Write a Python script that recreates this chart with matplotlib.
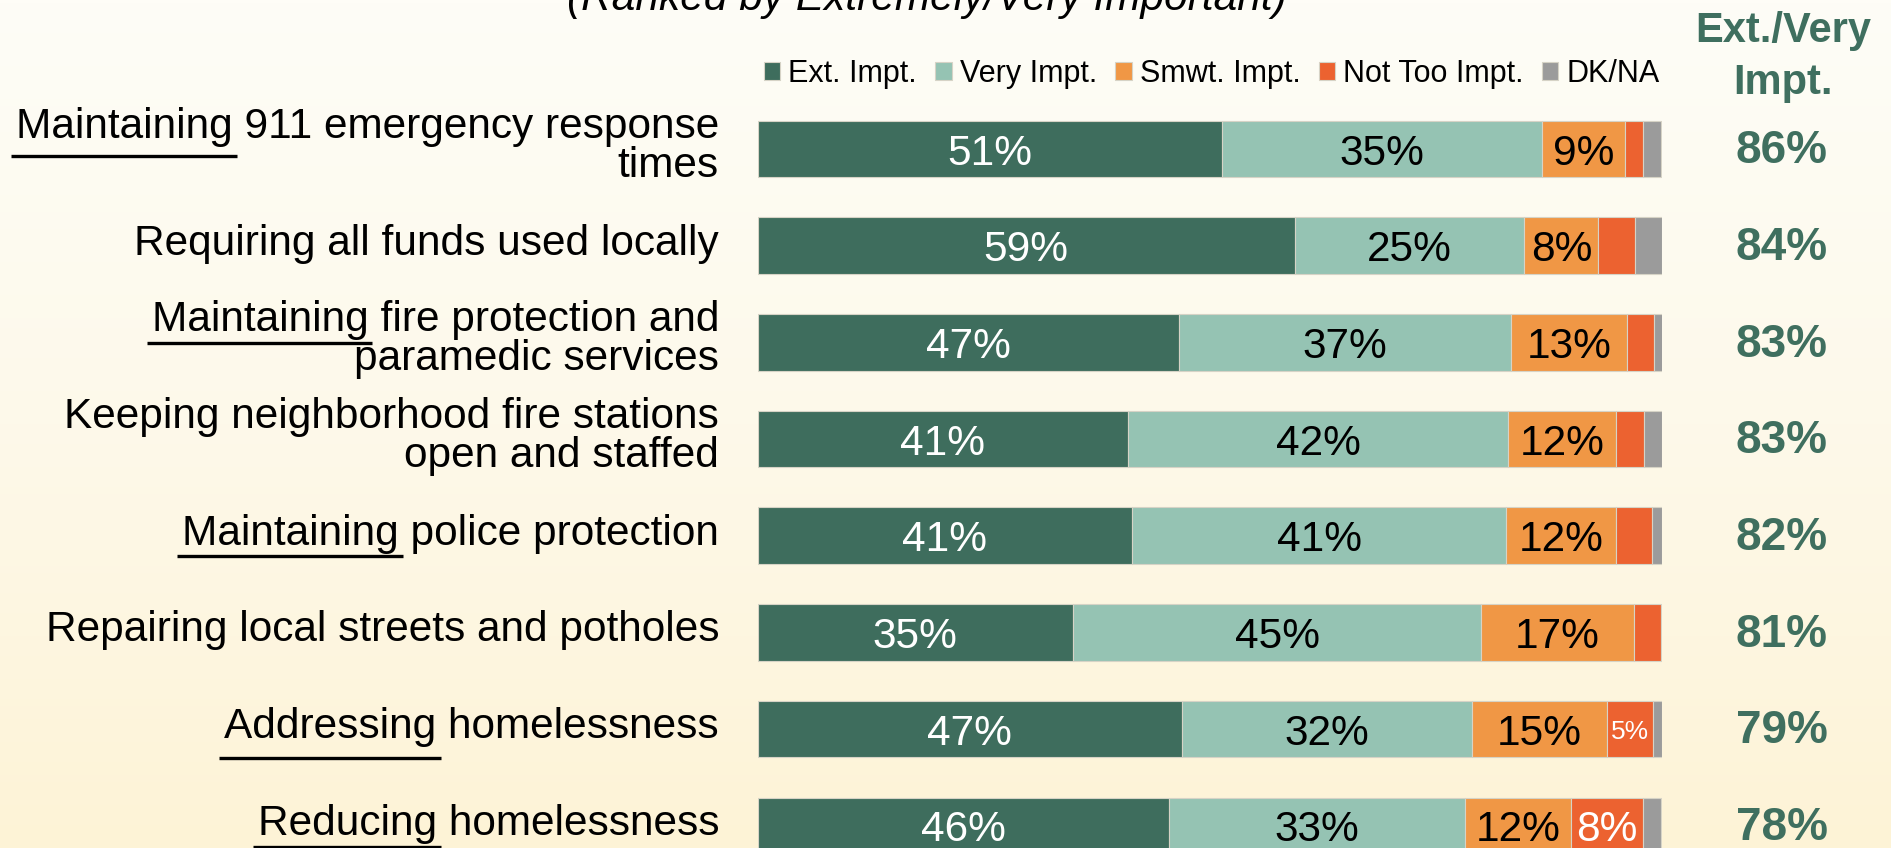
import numpy as np
import matplotlib
matplotlib.use('Agg')
import matplotlib.pyplot as plt
import matplotlib.transforms as mtransforms
from matplotlib.colors import LinearSegmentedColormap
from matplotlib.font_manager import FontProperties
from matplotlib.lines import Line2D

plt.rcParams['font.family'] = ['Liberation Sans', 'DejaVu Sans']

# data (percent of respondents)
items = ['Maintaining 911 emergency response\ntimes',
         'Requiring all funds used locally',
         'Maintaining fire protection and\nparamedic services',
         'Keeping neighborhood fire stations\nopen and staffed',
         'Maintaining police protection',
         'Repairing local streets and potholes',
         'Addressing homelessness',
         'Reducing homelessness']
underlined = [True, False, True, False, True, False, True, True]
ext = [51.4, 59.4, 46.6, 41.0, 41.4, 34.9, 46.9, 45.5]
very = [35.4, 25.4, 36.7, 42.0, 41.4, 45.1, 32.1, 32.7]
smwt = [9.1, 8.2, 12.9, 12.0, 12.1, 16.9, 15.0, 11.8]
not_too = [2.0, 4.0, 2.9, 3.0, 4.0, 3.0, 5.0, 7.9]
dkna = [2.0, 3.0, 1.0, 2.0, 1.1, 0.0, 1.0, 2.0]
net = [86, 84, 83, 83, 82, 81, 79, 78]

series = ['Ext. Impt.', 'Very Impt.', 'Smwt. Impt.', 'Not Too Impt.', 'DK/NA']
colors = ['#3e6d5d', '#95c3b3', '#f09745', '#ec6230', '#9b9b9b']
txt_colors = ['white', 'black', 'black', 'white', None]
green = '#3f6f5f'

W, H = 1891, 848
fig = plt.figure(figsize=(W / 100, H / 100), dpi=100)

# background gradient
bg = fig.add_axes([0, 0, 1, 1], zorder=-10)
cmap = LinearSegmentedColormap.from_list('bg', ['#fefdf7', '#fdf9ea', '#fdf3d6'])
grad = np.linspace(0, 1, 256).reshape(-1, 1)
bg.imshow(grad, aspect='auto', cmap=cmap, extent=[0, 1, 0, 1], origin='upper')
bg.axis('off')

ax = fig.add_axes([757.6 / W, 0, 904.1 / W, 1])
ax.patch.set_alpha(0)
ax.set_xlim(0, 100)
ax.set_ylim(7.229, -1.541)
ax.axis('off')

y = np.arange(len(items))
data = [ext, very, smwt, not_too, dkna]
left = np.zeros(len(items))
handles = []
for k, vals in enumerate(data):
    vals = np.array(vals)
    b = ax.barh(y, vals, left=left, height=0.586, color=colors[k],
                edgecolor='#d6d3c6', linewidth=0.8, label=series[k])
    handles.append(b)
    for i, v in enumerate(vals):
        show = k < 3 or (k == 3 and v >= 4.5)
        if show:
            fs = 19 if v < 6 and k == 3 else 30.5
            ax.text(left[i] + v / 2, i, f'{v:.0f}%', ha='center',
                    va='center_baseline', fontsize=fs, color=txt_colors[k])
    left += vals

# category labels, drawn line by line so the underline can be placed
fs_lab = 30.5
prop = FontProperties(family='Liberation Sans', size=fs_lab)
renderer = fig.canvas.get_renderer()
ul_drop = [18.4, 0, 11.7, 0, 11.7, 0, 20, 11.7]
for i, lab in enumerate(items):
    lines = lab.split('\n')
    base = [-11, 27.5] if len(lines) == 2 else [9]
    for ln, off in zip(lines, base):
        tr = mtransforms.offset_copy(ax.transData, fig=fig, x=-38.6, y=-off, units='dots')
        ax.text(0, i, ln, ha='right', va='baseline', fontsize=fs_lab,
                transform=tr, clip_on=False)
    if underlined[i]:
        word = lines[0].split(' ')[0]
        w_line = renderer.get_text_width_height_descent(lines[0], prop, ismath=False)[0]
        w_word = renderer.get_text_width_height_descent(word, prop, ismath=False)[0]
        xr, yc = ax.transData.transform((0, i))
        xr -= 38.6
        x0 = xr - w_line - 5
        x1 = xr - w_line + w_word + 4
        yl = yc + base[0] * -1 - ul_drop[i]
        fig.add_artist(Line2D([x0, x1], [yl, yl], transform=mtransforms.IdentityTransform(),
                              color='black', linewidth=2.4, solid_capstyle='butt'))

# net column
for i, v in enumerate(net):
    tr = mtransforms.offset_copy(ax.transData, fig=fig, y=-14.3, units='dots')
    ax.text(113.3, i, f'{v}%', ha='center', va='baseline', fontsize=33,
            fontweight='bold', color=green, transform=tr, clip_on=False)

fig.text(1783 / W, 1 - 94.3 / H, 'Ext./Very\nImpt.', ha='center', va='baseline',
         fontsize=30, fontweight='bold', color=green, linespacing=1.4)

fig.text(927 / W, 1 - 10 / H, '(Ranked by Extremely/Very Important)', ha='center',
         va='baseline', fontsize=30.5, style='italic')

ax.legend(handles=handles, ncol=5, loc='center left',
          bbox_to_anchor=(764 / W, 1 - 74 / H), bbox_transform=fig.transFigure,
          frameon=False, fontsize=22, handlelength=0.53, handleheight=0.53,
          handletextpad=0.27, columnspacing=0.6, borderpad=0, borderaxespad=0)

plt.savefig('out.png', dpi=100)
